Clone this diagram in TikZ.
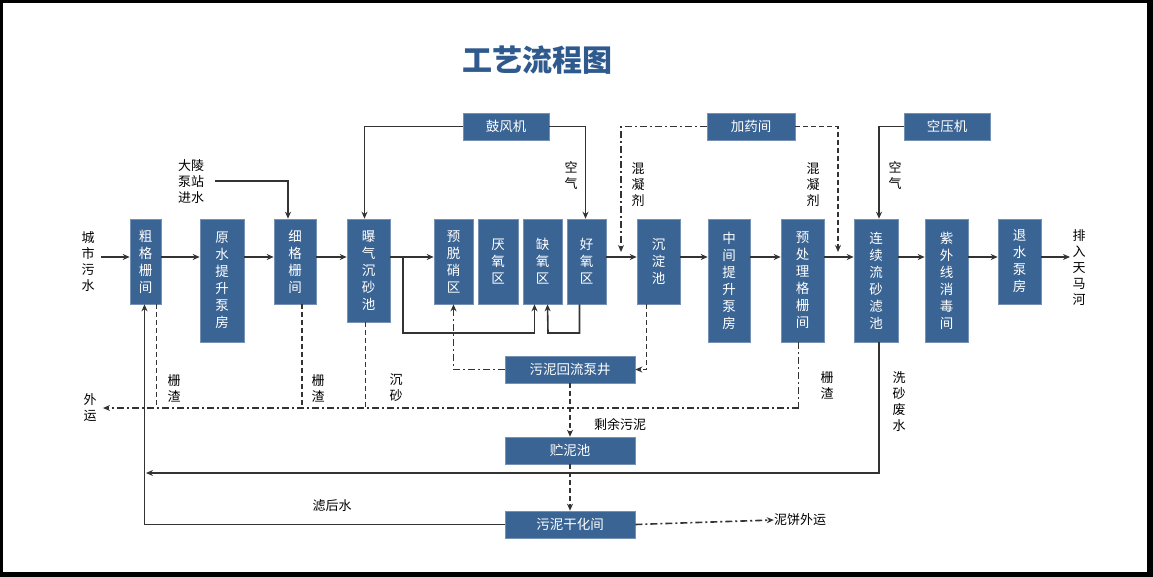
\documentclass[tikz,border=0pt]{standalone}
\usepackage{fontspec}
\newfontfamily\cjk{Noto Sans CJK SC}
\usetikzlibrary{arrows.meta}
\definecolor{bfill}{HTML}{3A6494}
\definecolor{ttl}{HTML}{2F5A8E}
\definecolor{ln}{HTML}{333333}
\begin{document}
\begin{tikzpicture}[x=1pt,y=-1pt,
 box/.style={fill=bfill,draw=bfill!70!white,line width=0.6pt,text=white,align=center,inner sep=0pt,font=\cjk\fontsize{13.5}{17}\selectfont},
 lab/.style={align=center,inner sep=0pt,text=black,font=\cjk\fontsize{13}{16}\selectfont},
 ln/.style={draw=ln,line width=1.6pt},
 ar/.style={ln,-{Stealth[length=7pt,width=6pt]}},
 dd/.style={ar,dash pattern=on 5pt off 3pt},
 dda/.style={ar,dash pattern=on 7pt off 3pt on 2pt off 3pt},
 ddn/.style={ln,dash pattern=on 5pt off 3pt},
 ddan/.style={ln,dash pattern=on 7pt off 3pt on 2pt off 3pt}]
\newcommand\bx[6]{\node[box,minimum width={(#4-#2)*1pt},minimum height={(#5-#3)*1pt}] (#1) at ({(#2+#4)/2},{(#3+#5)/2}) {#6};}
\fill[black] (0,0) rectangle (1153,577);
\fill[white] (3,3) rectangle (1147,572);
\useasboundingbox (0,0) rectangle (1153,577);
\node[font=\cjk\bfseries\fontsize{30}{32}\selectfont,text=ttl] (title) at (537,60) {工艺流程图};
\coordinate (main) at (0,257);
\bx{b1}{130}{219}{161}{304}{粗\\格\\栅\\间}
\bx{b2}{200}{219}{244}{342}{原\\水\\提\\升\\泵\\房}
\bx{b3}{274}{219}{316}{304}{细\\格\\栅\\间}
\bx{b4}{347}{219}{390}{322}{曝\\气\\沉\\砂\\池}
\bx{b5}{434}{219}{473}{304}{预\\脱\\硝\\区}
\bx{b6}{478}{219}{518}{304}{厌\\氧\\区}
\bx{b7}{523}{219}{562}{304}{缺\\氧\\区}
\bx{b8}{567}{219}{606}{304}{好\\氧\\区}
\bx{b9}{637}{219}{680}{304}{沉\\淀\\池}
\bx{b10}{708}{219}{750}{342}{中\\间\\提\\升\\泵\\房}
\bx{b11}{781}{219}{824}{342}{预\\处\\理\\格\\栅\\间}
\bx{b12}{854}{219}{898}{342}{连\\续\\流\\砂\\滤\\池}
\bx{b13}{925}{219}{968}{342}{紫\\外\\线\\消\\毒\\间}
\bx{b14}{998}{219}{1041}{304}{退\\水\\泵\\房}
\bx{gf}{463}{113}{549}{140}{鼓风机}
\bx{jy}{707}{113}{795}{140}{加药间}
\bx{ky}{904}{113}{990}{140}{空压机}
\bx{hl}{505}{356}{635}{383}{污泥回流泵井}
\bx{zn}{505}{437}{635}{464}{贮泥池}
\bx{gh}{505}{511}{635}{538}{污泥干化间}
% texts
\node[lab] (tin) at (88,262) {城\\市\\污\\水};
\node[lab] (tout) at (1079,268) {排\\入\\天\\马\\河};
\node[lab] (tdl) at (191,182) {大陵\\泵站\\进水};
\node[lab] (tair1) at (571,176) {空\\气};
\node[lab] (tair2) at (895,176) {空\\气};
\node[lab] (thn1) at (638,185) {混\\凝\\剂};
\node[lab] (thn2) at (813,185) {混\\凝\\剂};
\node[lab] (tzz1) at (174,388) {栅\\渣};
\node[lab] (tzz2) at (318,388) {栅\\渣};
\node[lab] (tcs) at (396,388) {沉\\砂};
\node[lab] (tzz3) at (827,385) {栅\\渣};
\node[lab] (twy) at (90,408) {外\\运};
\node[lab] (txs) at (899,402) {洗\\砂\\废\\水};
\node[lab] (tsy) at (620,424) {剩余污泥};
\node[lab] (tlh) at (332,506) {滤后水};
\node[lab] (tnb) at (800,520) {泥饼外运};
% main flow
\coordinate (in0) at (101,257);
\coordinate (out1) at (1070,257);
\draw[ar] (in0) -- (b1.west|-main);
\draw[ar] (b1.east|-main) -- (b2.west|-main);
\draw[ar] (b2.east|-main) -- (b3.west|-main);
\draw[ar] (b3.east|-main) -- (b4.west|-main);
\draw[ar] (b4.east|-main) -- (b5.west|-main);
\draw[ar] (b8.east|-main) -- (b9.west|-main);
\draw[ar] (b9.east|-main) -- (b10.west|-main);
\draw[ar] (b10.east|-main) -- (b11.west|-main);
\draw[ar] (b11.east|-main) -- (b12.west|-main);
\draw[ar] (b12.east|-main) -- (b13.west|-main);
\draw[ar] (b13.east|-main) -- (b14.west|-main);
\draw[ar] (b14.east|-main) -- (out1);
% 大陵
\coordinate (dl) at (215,181);
\draw[ar] (dl) -| ([xshift=-7pt]b3.north);
% blower
\draw[ar] (gf.west) -| ([xshift=-4pt]b4.north);
\draw[ar] (gf.east) -| ([xshift=-1pt]b8.north);
% dosing
\coordinate (d1) at (621,252);
\coordinate (d2) at (838,252);
\draw[dda] (jy.west) -| (d1);
\draw[dd] (jy.east) -| (d2);
% compressor
\draw[ar] (ky.west) -| ([xshift=3pt]b12.north);
% branch to anoxic
\coordinate (br) at (403,257);
\draw[ar] (br) |- (470,333) -| ([xshift=-8pt]b7.south);
\draw[ar] ([xshift=-7pt]b8.south) |- (548,333) -- ([xshift=5pt]b7.south);
% return sludge
\draw[dda] (hl.west) -| (b5.south);
\draw[dd] ([xshift=-12pt]b9.south) |- (hl.east);
\draw[dd] (hl.south) -- (zn.north);
\draw[dd] (zn.south) -- (gh.north);
\draw[dda] (gh.east) -- (tnb.west);
% screenings
\coordinate (wy) at (103,408);
\draw[ddan] ([xshift=-4pt]b11.south) -- ([xshift=-4pt]b11.south|-wy);
\draw[dda] ([xshift=-4pt]b11.south|-wy) -- (wy);
\draw[ddn] ([xshift=11pt]b1.south) -- ([xshift=11pt]b1.south|-wy);
\draw[ddn] ([xshift=7pt]b3.south) -- ([xshift=7pt]b3.south|-wy);
\draw[ddn] ([xshift=-3pt]b4.south) -- ([xshift=-3pt]b4.south|-wy);
% backwash / filtrate
\coordinate (bw) at (146,473);
\draw[ar] ([xshift=3pt]b12.south) |- (bw);
\draw[ar] (gh.west) -| ([xshift=-1pt]b1.south);
\end{tikzpicture}
\end{document}
